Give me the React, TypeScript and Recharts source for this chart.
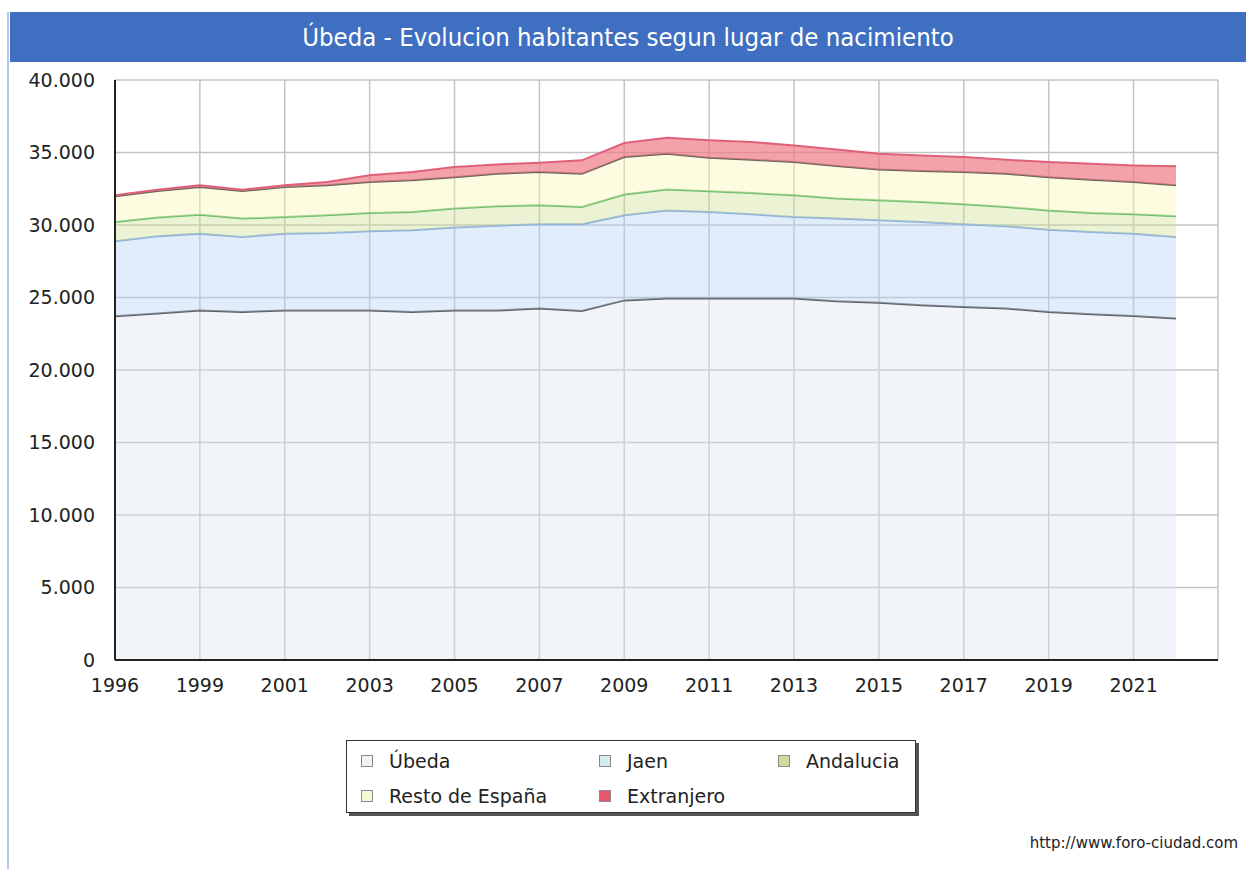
import React from 'react';
import { AreaChart, Area, XAxis, YAxis, CartesianGrid } from 'recharts';

// years of the padrón (no 1997)
const years = ['1996', '1998', '1999', '2000', '2001', '2002', '2003', '2004', '2005', '2006', '2007', '2008', '2009',
  '2010', '2011', '2012', '2013', '2014', '2015', '2016', '2017', '2018', '2019', '2020', '2021', '2022'];

const ubeda = [23700, 23900, 24100, 24000, 24100, 24100, 24100, 24000, 24100, 24100, 24240, 24070, 24800,
  24930, 24930, 24930, 24930, 24740, 24630, 24470, 24350, 24240, 24000, 23850, 23730, 23550];
const jaen = [5180, 5320, 5300, 5170, 5300, 5350, 5470, 5630, 5720, 5850, 5810, 5980, 5870,
  6070, 5970, 5810, 5620, 5700, 5690, 5740, 5700, 5670, 5680, 5670, 5670, 5620];
const andalucia = [1320, 1290, 1300, 1270, 1150, 1220, 1260, 1270, 1310, 1340, 1310, 1190, 1430,
  1440, 1420, 1460, 1500, 1380, 1380, 1380, 1380, 1330, 1320, 1310, 1340, 1430];
const restoEspana = [1780, 1830, 1920, 1900, 2070, 2070, 2130, 2180, 2170, 2240, 2290, 2290, 2590,
  2480, 2320, 2300, 2290, 2250, 2120, 2130, 2220, 2290, 2300, 2290, 2220, 2140];
const extranjero = [70, 100, 120, 100, 120, 220, 470, 570, 700, 650, 650, 930, 960,
  1100, 1200, 1220, 1150, 1130, 1100, 1080, 1040, 970, 1040, 1110, 1150, 1310];

const xTicks = ['1996', '1999', '2001', '2003', '2005', '2007', '2009', '2011', '2013', '2015', '2017', '2019', '2021'];
const yTicks = [0, 5000, 10000, 15000, 20000, 25000, 30000, 35000, 40000];

// fills are translucent so the grid shows through, like in the original
const series = [
  { key: 'ubeda', name: 'Úbeda', fill: '#dde7ef', opacity: 0.4, stroke: '#5f5f5f', marker: '#f2f2f2' },
  { key: 'jaen', name: 'Jaen', fill: '#b5d2f5', opacity: 0.4, stroke: '#8eb0e0', marker: '#d6edf0' },
  { key: 'andalucia', name: 'Andalucia', fill: '#cfe194', opacity: 0.4, stroke: '#6cbd72', marker: '#d0dc9c' },
  { key: 'resto', name: 'Resto de España', fill: '#faf5b1', opacity: 0.4, stroke: '#66665a', marker: '#f6f8d2' },
  { key: 'extranjero', name: 'Extranjero', fill: '#ee7b86', opacity: 0.7, stroke: '#e0607a', marker: '#e8566e' },
];

const data = years.map((year, i) => ({
  year,
  ubeda: ubeda[i],
  jaen: jaen[i],
  andalucia: andalucia[i],
  resto: restoEspana[i],
  extranjero: extranjero[i],
}));

const fmt = (v: number) => String(v).replace(/\B(?=(\d{3})+(?!\d))/g, '.');

const font = '"DejaVu Sans", Verdana, sans-serif';

export default function App() {
  return (
    <div style={{ position: 'absolute', top: 0, left: 0, width: 1246, height: 869, background: '#fff', fontFamily: font, overflow: 'hidden' }}>
      <div style={{ position: 'absolute', left: 7, top: 12, width: 2, height: 857, background: '#b4c8ea' }} />
      <AreaChart
        width={1246}
        height={720}
        data={data}
        margin={{ top: 80, right: 28, left: 0, bottom: 0 }}
        style={{ position: 'absolute', top: 0, left: 0 }}
      >
        <CartesianGrid stroke="#c4c4c4" strokeWidth={1.5} />
        {series.map(s => (
          <Area
            key={s.key}
            type="linear"
            dataKey={s.key}
            name={s.name}
            stackId="1"
            fill={s.fill}
            fillOpacity={s.opacity}
            stroke={s.stroke}
            strokeWidth={2}
            isAnimationActive={false}
            dot={false}
            activeDot={false}
          />
        ))}
        <XAxis
          dataKey="year"
          ticks={xTicks}
          interval={0}
          padding={{ left: 0, right: 42 }}
          height={60}
          tickSize={0}
          tickMargin={19}
          axisLine={{ stroke: '#222', strokeWidth: 2 }}
          tick={{ fontSize: 19, fill: '#222', fontFamily: font }}
        />
        <XAxis xAxisId="top" orientation="top" height={0} tick={false} tickLine={false} axisLine={{ stroke: '#222', strokeWidth: 2 }} />
        <YAxis
          domain={[0, 40000]}
          ticks={yTicks}
          width={115}
          tickSize={0}
          tickMargin={20}
          tickFormatter={fmt}
          axisLine={{ stroke: '#222', strokeWidth: 2 }}
          tick={{ fontSize: 19, fill: '#222', fontFamily: font }}
        />
        <YAxis yAxisId="right" orientation="right" width={0} domain={[0, 40000]} tick={false} tickLine={false} axisLine={{ stroke: '#222', strokeWidth: 2 }} />
      </AreaChart>

      {/* title bar */}
      <div style={{
        position: 'absolute', left: 10, top: 12, width: 1236, height: 50, background: '#3f6fc1',
        color: '#fff', fontSize: 25.5, fontFamily: '"DejaVu Sans Condensed", "DejaVu Sans", sans-serif',
        display: 'flex', alignItems: 'center', justifyContent: 'center',
      }}>
        Úbeda - Evolucion habitantes segun lugar de nacimiento
      </div>

      {/* legend */}
      <div style={{
        position: 'absolute', left: 346, top: 740, width: 570, height: 73, boxSizing: 'border-box',
        border: '1.5px solid #333', background: '#fff', boxShadow: '3px 3px 0 #555',
      }}>
        {series.map((s, i) => {
          const col = i % 3;
          const row = Math.floor(i / 3);
          const lefts = [14, 252, 431];
          return (
            <div key={s.key} style={{ position: 'absolute', left: lefts[col], top: 8 + row * 35, height: 24, display: 'flex', alignItems: 'center' }}>
              <span style={{ width: 10, height: 10, background: s.marker, border: '1px solid #8a8a8a', marginRight: 16, display: 'inline-block' }} />
              <span style={{ fontSize: 19, color: '#222' }}>{s.name}</span>
            </div>
          );
        })}
      </div>

      <div style={{ position: 'absolute', right: 8, top: 834, fontSize: 15, color: '#222' }}>http://www.foro-ciudad.com</div>
    </div>
  );
}
